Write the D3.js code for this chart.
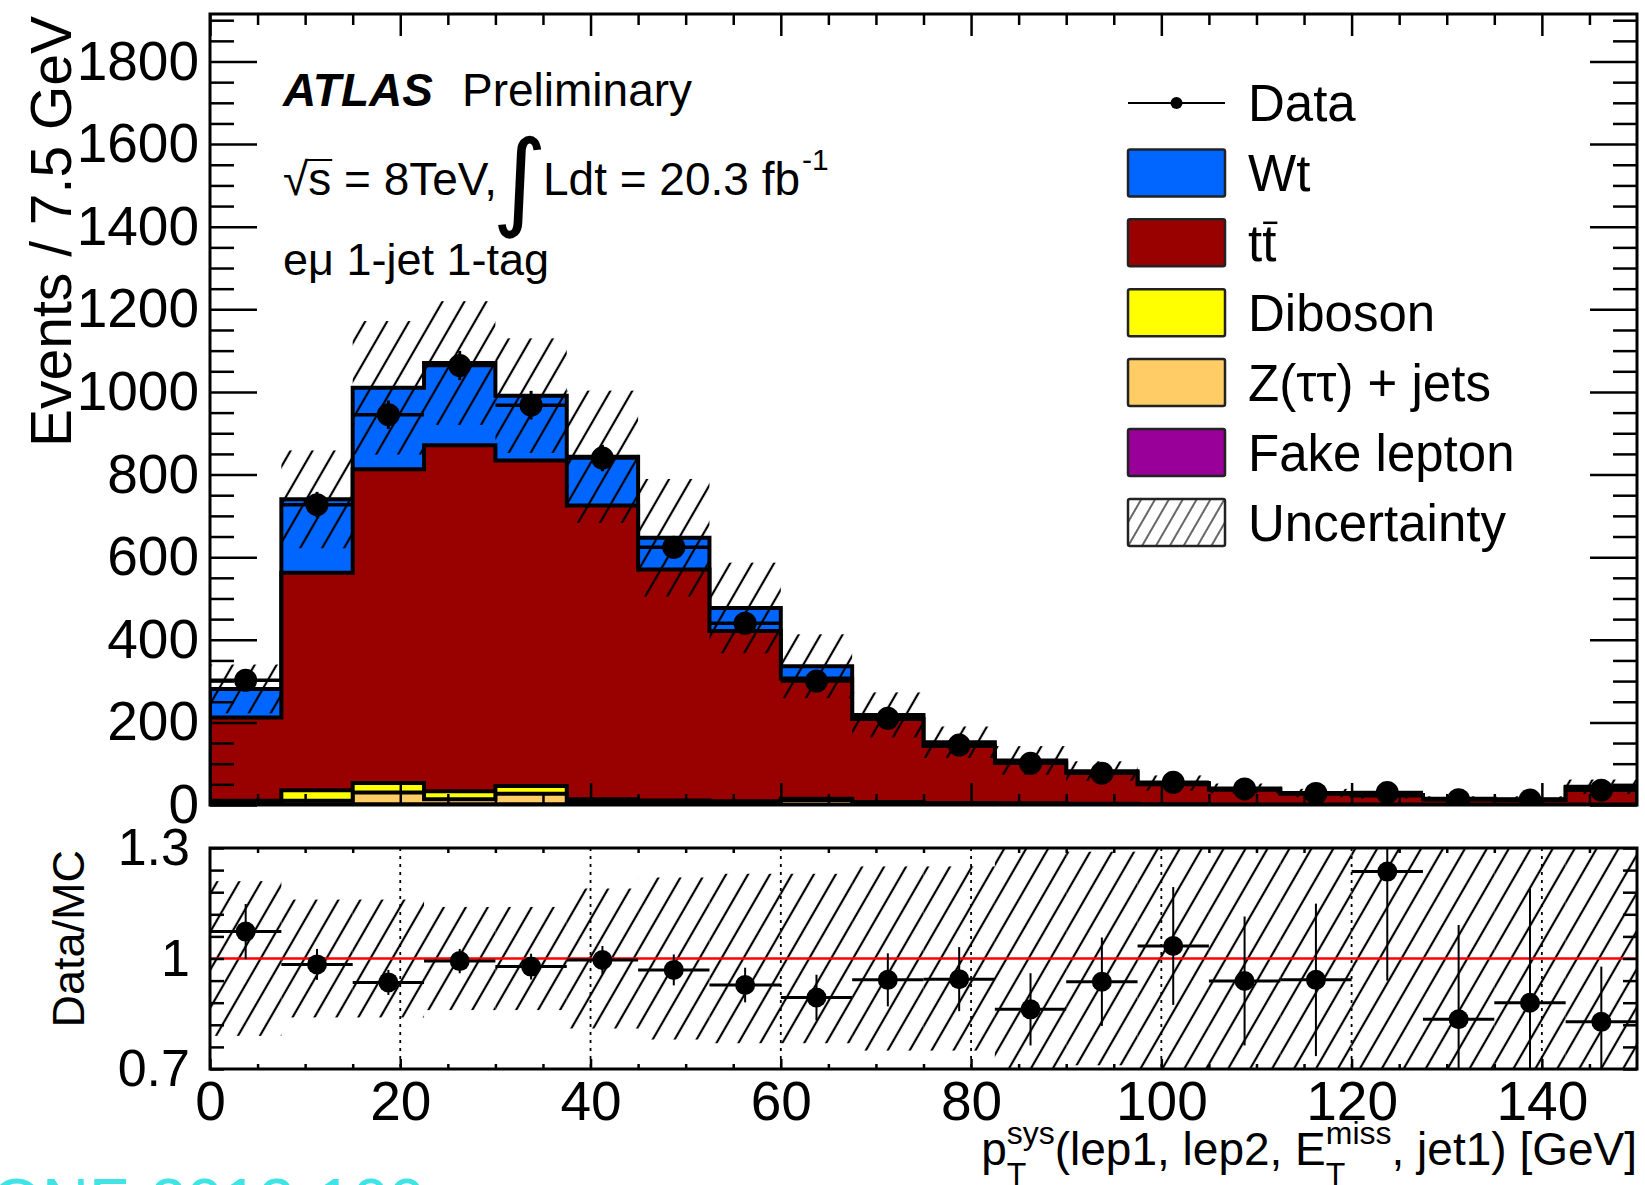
<!DOCTYPE html>
<html>
<head>
<meta charset="utf-8">
<script src="https://cdn.jsdelivr.net/npm/d3@7"></script>
<style>
  body { margin: 0; background: #fff; }
  text { font-family: "Liberation Sans", Arial, Helvetica, sans-serif; fill: #000; white-space: pre; }
</style>
</head>
<body>
<svg id="chart" width="1645" height="1185"></svg>
<script>
// bins of 7.5 GeV
const binEdges = [0, 7.5, 15, 22.5, 30, 37.5, 45, 52.5, 60, 67.5, 75, 82.5, 90, 97.5, 105, 112.5, 120, 127.5, 135, 142.5, 150];

// stacked MC, bottom -> top
const fakeLepton = [1, 2, 2, 2, 2, 1, 1, 1, 1, 1, 1, 1, 0, 0, 0, 0, 0, 0, 0, 0];
const zTauTau    = [3, 8, 28, 12, 25, 4, 3, 2, 11, 2, 1, 1, 1, 1, 0, 0, 0, 0, 0, 0];
const diboson    = [6, 26, 23, 19, 19, 9, 7, 6, 3, 4, 3, 2, 2, 1, 1, 1, 1, 1, 1, 1];
const ttbar      = [202, 526, 760, 838, 788, 711, 559, 412, 291, 201, 138, 98, 75, 48, 36, 26, 22, 13, 12, 40];
const wt         = [69, 178, 197, 199, 157, 118, 77, 56, 30, 10, 9, 6, 4, 3, 3, 2, 1, 1, 1, 3];

// relative MC uncertainty (hatched band)
const relUnc = [0.21, 0.16, 0.16, 0.14, 0.14, 0.19, 0.22, 0.23, 0.23, 0.25, 0.25, 0.32, 0.29, 0.35, 0.30, 0.35, 0.35, 0.40, 0.50, 0.40];

// data
const dataEvents = [302, 727, 945, 1064, 968, 840, 624, 440, 300, 210, 145, 101, 77, 55, 39, 28, 30, 13, 12, 36];
const ratio      = [1.073, 0.984, 0.935, 0.993, 0.978, 0.996, 0.969, 0.928, 0.894, 0.942, 0.944, 0.862, 0.937, 1.034, 0.939, 0.942, 1.236, 0.835, 0.880, 0.828];
const ratioErr   = [0.075, 0.042, 0.034, 0.033, 0.035, 0.038, 0.042, 0.047, 0.062, 0.072, 0.087, 0.098, 0.12, 0.16, 0.175, 0.207, 0.296, 0.256, 0.31, 0.15];

const yMajorTicks = [0, 200, 400, 600, 800, 1000, 1200, 1400, 1600, 1800];
const xMajorTicks = [0, 20, 40, 60, 80, 100, 120, 140];
const ratioLabels = [0.7, 1, 1.3];

const legendItems = [
  {label: 'Wt', color: '#0066ff'},
  {label: 'tt', color: '#990000', bar: true},
  {label: 'Diboson', color: '#ffff00'},
  {label: 'Z(ττ) + jets', color: '#ffcc66'},
  {label: 'Fake lepton', color: '#990099'},
  {label: 'Uncertainty', hatch: true}
];

const components = [fakeLepton, zTauTau, diboson, ttbar, wt];
const compColors = ['#990099', '#ffcc66', '#ffff00', '#990000', '#0066ff'];

const svg = d3.select('#chart');
svg.append('rect').attr('width', 1645).attr('height', 1185).attr('fill', '#fff');

const left = 210, right = 1637;
const mainTop = 14, mainBottom = 805;
const ratTop = 848, ratBottom = 1069;

const x = d3.scaleLinear().domain([0, 150]).range([left, right]);
const y = d3.scaleLinear().domain([0, 1915]).range([mainBottom, mainTop]);
const yr = d3.scaleLinear().domain([0.7, 1.3]).range([ratBottom, ratTop]);

const defs = svg.append('defs');
defs.append('pattern').attr('id', 'hatch').attr('patternUnits', 'userSpaceOnUse')
  .attr('width', 19).attr('height', 19).attr('patternTransform', 'rotate(30)')
  .append('line').attr('x1', 2).attr('y1', -1).attr('x2', 2).attr('y2', 20)
  .attr('stroke', '#000').attr('stroke-width', 2.2);
defs.append('pattern').attr('id', 'hatchLegend').attr('patternUnits', 'userSpaceOnUse')
  .attr('width', 12).attr('height', 12).attr('patternTransform', 'rotate(30)')
  .append('line').attr('x1', 2).attr('y1', -1).attr('x2', 2).attr('y2', 13)
  .attr('stroke', '#333').attr('stroke-width', 1.5);
defs.append('clipPath').attr('id', 'clipMain').append('rect')
  .attr('x', left).attr('y', mainTop).attr('width', right - left).attr('height', mainBottom - mainTop);
defs.append('clipPath').attr('id', 'clipRatio').append('rect')
  .attr('x', left).attr('y', ratTop).attr('width', right - left).attr('height', ratBottom - ratTop);

const nBins = dataEvents.length;
const total = d3.range(nBins).map(i => d3.sum(components, c => c[i]));

// ---------- main panel ----------
const main = svg.append('g').attr('clip-path', 'url(#clipMain)');

const stepArea = d3.area()
  .curve(d3.curveStepAfter)
  .x(d => x(d.x))
  .y0(y(0))
  .y1(d => y(d.v));

// cumulative levels drawn from top of the stack down, like THStack
for (let k = components.length - 1; k >= 0; k--) {
  const cum = d3.range(nBins).map(i => d3.sum(components.slice(0, k + 1), c => c[i]));
  const pts = binEdges.map((e, i) => ({x: e, v: cum[Math.min(i, nBins - 1)]}));
  main.append('path')
    .attr('d', stepArea(pts))
    .attr('fill', compColors[k])
    .attr('stroke', '#000')
    .attr('stroke-width', 4)
    .attr('stroke-linejoin', 'miter');
}

main.append('g').selectAll('rect')
  .data(total)
  .join('rect')
  .attr('x', (d, i) => x(binEdges[i]))
  .attr('width', (d, i) => x(binEdges[i + 1]) - x(binEdges[i]))
  .attr('y', (d, i) => y(d * (1 + relUnc[i])))
  .attr('height', (d, i) => y(d * (1 - relUnc[i])) - y(d * (1 + relUnc[i])))
  .attr('fill', 'url(#hatch)');

const dataG = main.append('g');
dataG.selectAll('line.h')
  .data(dataEvents)
  .join('line')
  .attr('class', 'h')
  .attr('x1', (d, i) => x(binEdges[i])).attr('x2', (d, i) => x(binEdges[i + 1]))
  .attr('y1', d => y(d)).attr('y2', d => y(d))
  .attr('stroke', '#000').attr('stroke-width', 3.5);
dataG.selectAll('line.v')
  .data(dataEvents)
  .join('line')
  .attr('class', 'v')
  .attr('x1', (d, i) => x((binEdges[i] + binEdges[i + 1]) / 2))
  .attr('x2', (d, i) => x((binEdges[i] + binEdges[i + 1]) / 2))
  .attr('y1', (d, i) => y(d + ratioErr[i] * total[i]))
  .attr('y2', (d, i) => y(d - ratioErr[i] * total[i]))
  .attr('stroke', '#000').attr('stroke-width', 3);
dataG.selectAll('circle')
  .data(dataEvents)
  .join('circle')
  .attr('cx', (d, i) => x((binEdges[i] + binEdges[i + 1]) / 2))
  .attr('cy', d => y(d))
  .attr('r', 11.5)
  .attr('fill', '#000');

// frame + axes for main panel
svg.append('rect').attr('x', left).attr('y', mainTop)
  .attr('width', right - left).attr('height', mainBottom - mainTop)
  .attr('fill', 'none').attr('stroke', '#000').attr('stroke-width', 3);

const yMinor = d3.range(0, 1915, 50).filter(v => v % 200 !== 0);
const xMinor = d3.range(0, 150, 5).filter(v => v % 20 !== 0);

function tickAxis(axis, transform, fs) {
  const g = svg.append('g').attr('transform', transform).call(axis);
  g.select('.domain').remove();
  g.selectAll('.tick line').attr('stroke', '#000').attr('stroke-width', 2.5);
  g.selectAll('.tick text').attr('font-size', fs).attr('fill', '#000')
    .style('font-family', '"Liberation Sans", Arial, sans-serif');
  return g;
}

tickAxis(d3.axisLeft(y).tickValues(yMajorTicks).tickSizeInner(-47).tickSizeOuter(0).tickPadding(11)
  .tickFormat(d3.format('d')), `translate(${left},0)`, 55);
tickAxis(d3.axisLeft(y).tickValues(yMinor).tickSizeInner(-24).tickSizeOuter(0).tickFormat(''),
  `translate(${left},0)`, 0);
tickAxis(d3.axisRight(y).tickValues(yMajorTicks).tickSizeInner(-47).tickSizeOuter(0).tickFormat(''),
  `translate(${right},0)`, 0);
tickAxis(d3.axisRight(y).tickValues(yMinor).tickSizeInner(-24).tickSizeOuter(0).tickFormat(''),
  `translate(${right},0)`, 0);
tickAxis(d3.axisTop(x).tickValues(xMajorTicks).tickSizeInner(-22).tickSizeOuter(0).tickFormat(''),
  `translate(0,${mainTop})`, 0);
tickAxis(d3.axisTop(x).tickValues(xMinor).tickSizeInner(-11).tickSizeOuter(0).tickFormat(''),
  `translate(0,${mainTop})`, 0);
tickAxis(d3.axisBottom(x).tickValues(xMajorTicks).tickSizeInner(-22).tickSizeOuter(0).tickFormat(''),
  `translate(0,${mainBottom})`, 0);
tickAxis(d3.axisBottom(x).tickValues(xMinor).tickSizeInner(-11).tickSizeOuter(0).tickFormat(''),
  `translate(0,${mainBottom})`, 0);

// ---------- ratio panel ----------
const rat = svg.append('g').attr('clip-path', 'url(#clipRatio)');
rat.append('g').selectAll('rect')
  .data(relUnc)
  .join('rect')
  .attr('x', (d, i) => x(binEdges[i]))
  .attr('width', (d, i) => x(binEdges[i + 1]) - x(binEdges[i]))
  .attr('y', d => yr(1 + d))
  .attr('height', d => yr(1 - d) - yr(1 + d))
  .attr('fill', 'url(#hatch)');

rat.append('g').selectAll('line')
  .data(xMajorTicks.slice(1))
  .join('line')
  .attr('x1', d => x(d)).attr('x2', d => x(d))
  .attr('y1', ratTop).attr('y2', ratBottom)
  .attr('stroke', '#000').attr('stroke-width', 1.8).attr('stroke-dasharray', '3,5');

rat.append('line').attr('x1', left).attr('x2', right)
  .attr('y1', yr(1)).attr('y2', yr(1))
  .attr('stroke', '#ff0000').attr('stroke-width', 2.5);

rat.selectAll('line.rh')
  .data(ratio)
  .join('line')
  .attr('class', 'rh')
  .attr('x1', (d, i) => x(binEdges[i])).attr('x2', (d, i) => x(binEdges[i + 1]))
  .attr('y1', d => yr(d)).attr('y2', d => yr(d))
  .attr('stroke', '#000').attr('stroke-width', 3);
rat.selectAll('line.rv')
  .data(ratio)
  .join('line')
  .attr('class', 'rv')
  .attr('x1', (d, i) => x((binEdges[i] + binEdges[i + 1]) / 2))
  .attr('x2', (d, i) => x((binEdges[i] + binEdges[i + 1]) / 2))
  .attr('y1', (d, i) => yr(d + ratioErr[i]))
  .attr('y2', (d, i) => yr(d - ratioErr[i]))
  .attr('stroke', '#000').attr('stroke-width', 2);
rat.selectAll('circle')
  .data(ratio)
  .join('circle')
  .attr('cx', (d, i) => x((binEdges[i] + binEdges[i + 1]) / 2))
  .attr('cy', d => yr(d))
  .attr('r', 10)
  .attr('fill', '#000');

svg.append('rect').attr('x', left).attr('y', ratTop)
  .attr('width', right - left).attr('height', ratBottom - ratTop)
  .attr('fill', 'none').attr('stroke', '#000').attr('stroke-width', 3);

const rTicks = d3.range(0.7, 1.3001, 0.06);
tickAxis(d3.axisLeft(yr).tickValues(rTicks).tickSizeInner(-14).tickSizeOuter(0).tickFormat(''),
  `translate(${left},0)`, 0);
tickAxis(d3.axisRight(yr).tickValues(rTicks).tickSizeInner(-14).tickSizeOuter(0).tickFormat(''),
  `translate(${right},0)`, 0);
tickAxis(d3.axisLeft(yr).tickValues(ratioLabels).tickSize(0).tickPadding(20)
  .tickFormat(d => d === 1 ? '1' : d3.format('.1f')(d)), `translate(${left},0)`, 52);
tickAxis(d3.axisBottom(x).tickValues(xMinor).tickSizeInner(-5).tickSizeOuter(0).tickFormat(''),
  `translate(0,${ratBottom})`, 0);
tickAxis(d3.axisTop(x).tickValues(xMinor).tickSizeInner(-5).tickSizeOuter(0).tickFormat(''),
  `translate(0,${ratTop})`, 0);
tickAxis(d3.axisBottom(x).tickValues(xMajorTicks).tickSizeInner(-10).tickSizeOuter(0).tickPadding(12)
  .tickFormat(d3.format('d')), `translate(0,${ratBottom})`, 55);

// ---------- titles ----------
svg.append('text')
  .attr('transform', 'translate(71,16) rotate(-90)')
  .attr('text-anchor', 'end').attr('font-size', 57)
  .text('Events / 7.5 GeV');
svg.append('text')
  .attr('transform', 'translate(84,850) rotate(-90)')
  .attr('text-anchor', 'end').attr('font-size', 45)
  .text('Data/MC');

function richText(g, parts, fs) {
  let cx = 0, prevW = 0;
  parts.forEach(p => {
    const t = g.append('text').attr('y', p.dy || 0).attr('font-size', p.size || fs).text(p.t);
    const x0 = p.stack ? cx - prevW : cx;
    t.attr('x', x0);
    const w = t.node().getComputedTextLength();
    cx = p.stack ? Math.max(cx, x0 + w) : x0 + w;
    prevW = w;
  });
  return cx;
}

const xTitle = svg.append('g');
const xTitleW = richText(xTitle, [
  {t: 'p'}, {t: 'T', dy: 20, size: 32}, {t: 'sys', dy: -21, size: 32, stack: true},
  {t: '(lep1, lep2, E'}, {t: 'T', dy: 20, size: 32}, {t: 'miss', dy: -21, size: 32, stack: true},
  {t: ', jet1) [GeV]'}
], 46);
xTitle.attr('transform', `translate(${right - xTitleW},1165)`);

// ATLAS label block
svg.append('text').attr('x', 283).attr('y', 106).attr('font-size', 46)
  .attr('font-weight', 'bold').attr('font-style', 'italic').text('ATLAS');
svg.append('text').attr('x', 462).attr('y', 106).attr('font-size', 46).text('Preliminary');

const lumi = svg.append('g');
const sq = lumi.append('text').attr('x', 283).attr('y', 195).attr('font-size', 46).text('√');
const sqW = sq.node().getComputedTextLength();
const sText = lumi.append('text').attr('x', 283 + sqW).attr('y', 195).attr('font-size', 46).text('s');
const sW = sText.node().getComputedTextLength();
lumi.append('line').attr('x1', 283 + sqW - 2).attr('x2', 283 + sqW + sW + 1)
  .attr('y1', 160).attr('y2', 160).attr('stroke', '#000').attr('stroke-width', 2);
lumi.append('text').attr('x', 283 + sqW + sW).attr('y', 195).attr('font-size', 46).text('\u00a0= 8TeV,');
lumi.append('text').attr('x', 492).attr('y', 216).attr('font-size', 106)
  .style('font-family', '"DejaVu Sans", sans-serif').text('∫');
const ldt = lumi.append('text').attr('x', 543).attr('y', 195).attr('font-size', 46).text('Ldt = 20.3 fb');
const ldtW = ldt.node().getComputedTextLength();
lumi.append('text').attr('x', 543 + ldtW + 2).attr('y', 170).attr('font-size', 30).text('-1');

svg.append('text').attr('x', 283).attr('y', 275).attr('font-size', 45).text('eμ 1-jet 1-tag');

// ---------- legend ----------
const legX = 1128, legW = 97, legH = 47, legTextX = 1248, rowY0 = 103, rowStep = 69.9;
const leg = svg.append('g');
leg.append('line').attr('x1', legX).attr('x2', legX + legW).attr('y1', rowY0).attr('y2', rowY0)
  .attr('stroke', '#000').attr('stroke-width', 2);
leg.append('circle').attr('cx', legX + legW / 2).attr('cy', rowY0).attr('r', 6).attr('fill', '#000');
leg.append('text').attr('x', legTextX).attr('y', rowY0).attr('dy', '0.36em').attr('font-size', 51).text('Data');

legendItems.forEach((it, i) => {
  const cy = rowY0 + (i + 1) * rowStep;
  leg.append('rect').attr('x', legX).attr('y', cy - legH / 2).attr('width', legW).attr('height', legH)
    .attr('rx', 2)
    .attr('fill', it.hatch ? 'url(#hatchLegend)' : it.color)
    .attr('stroke', '#222').attr('stroke-width', 2.5);
  const t = leg.append('text').attr('x', legTextX).attr('y', cy).attr('dy', '0.36em')
    .attr('font-size', 51).text(it.label);
  if (it.bar) {
    const n = t.node();
    const x0 = legTextX + n.getSubStringLength(0, 1);
    const x1 = legTextX + n.getSubStringLength(0, 2);
    leg.append('line').attr('x1', x0 + 1).attr('x2', x1 + 1)
      .attr('y1', cy - 20).attr('y2', cy - 20).attr('stroke', '#000').attr('stroke-width', 2.5);
  }
});

// conference note id, cut at bottom edge
svg.append('text').attr('x', 425).attr('y', 1224).attr('text-anchor', 'end')
  .attr('font-size', 65).style('fill', '#40e4e4').text('CONF-2013-100');
</script>
</body>
</html>
